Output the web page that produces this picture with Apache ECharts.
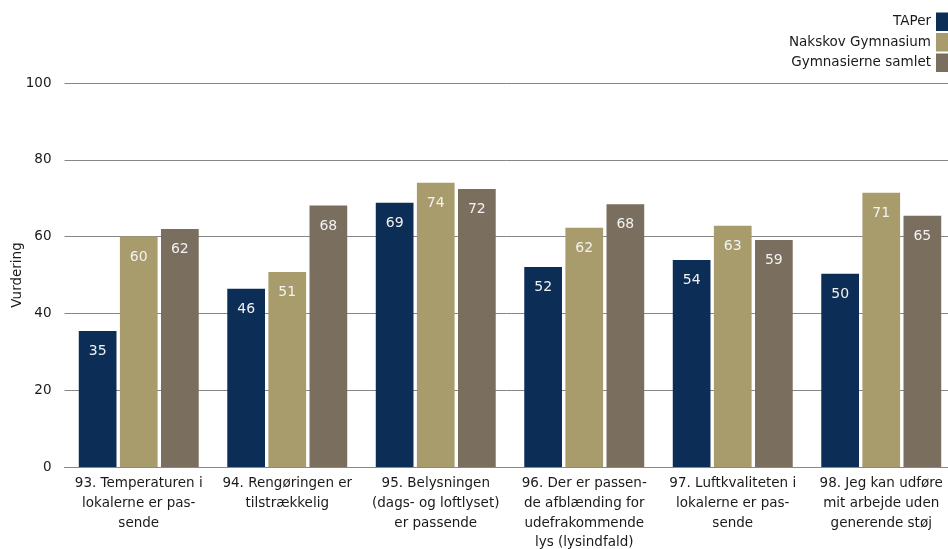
<!DOCTYPE html>
<html>
<head>
<meta charset="utf-8">
<script src="https://cdn.jsdelivr.net/npm/echarts@6/dist/echarts.min.js"></script>
<style>html,body{margin:0;padding:0;background:#fff;overflow:hidden}#c{width:948px;height:549px}</style>
</head>
<body>
<div id="c"></div>
<script>
var categories = [
  "93. Temperaturen i\nlokalerne er pas-\nsende",
  "94. Rengøringen er\ntilstrækkelig",
  "95. Belysningen\n(dags- og loftlyset)\ner passende",
  "96. Der er passen-\nde afblænding for\nudefrakommende\nlys (lysindfald)",
  "97. Luftkvaliteten i\nlokalerne er pas-\nsende",
  "98. Jeg kan udføre\nmit arbejde uden\ngenerende støj"
];
var seriesNames = ["TAPer", "Nakskov Gymnasium", "Gymnasierne samlet"];
var taper = [35.4, 46.4, 68.8, 52.1, 53.9, 50.3];
var nakskov = [60.0, 50.8, 74.0, 62.3, 62.8, 71.4];
var samlet = [62.0, 68.1, 72.4, 68.4, 59.1, 65.4];
var yTicks = [0, 20, 40, 60, 80, 100];
var colors = ["#0c2d55", "#a99c6c", "#7a6e5e"];

var FONT = "DejaVu Sans";
var chart = echarts.init(document.getElementById("c"), null, {renderer: "canvas"});
function mk(name, data, color) {
  return {
    name: name, type: "bar", data: data,
    barWidth: "25.4%", barGap: "9%",
    itemStyle: {color: color},
    label: {
      show: true, position: "insideTop", distance: 13.5,
      color: "#f2f2f2", fontFamily: FONT, fontSize: 14,
      formatter: function (p) { return Math.round(p.value); }
    }
  };
}
chart.setOption({
  animation: false,
  textStyle: {fontFamily: FONT},
  color: colors,
  legend: {
    orient: "vertical", right: 0, top: 12.5, align: "right", padding: 0,
    itemWidth: 12, itemHeight: 18.5, itemGap: 2,
    icon: "rect",
    textStyle: {fontFamily: FONT, fontSize: 13.5, color: "#1a1a1a"},
    data: seriesNames
  },
  grid: {left: 64.5, right: -7.5, top: 83, bottom: 82, containLabel: false, outerBoundsMode: "none"},
  xAxis: {
    type: "category", data: categories,
    axisTick: {show: false},
    axisLine: {lineStyle: {color: "#888888", width: 1}},
    axisLabel: {interval: 0, color: "#1a1a1a", fontFamily: FONT, fontSize: 13.5, lineHeight: 19.7, margin: 7, align: "center"}
  },
  yAxis: {
    type: "value", min: yTicks[0], max: yTicks[yTicks.length - 1], interval: 20,
    name: "Vurdering", nameLocation: "middle", nameGap: 40, nameRotate: 90, nameMoveOverlap: false,
    nameTextStyle: {fontFamily: FONT, fontSize: 13.5, color: "#1a1a1a"},
    axisLine: {show: false}, axisTick: {show: false},
    axisLabel: {color: "#1a1a1a", fontFamily: FONT, fontSize: 13.5, margin: 13},
    splitLine: {lineStyle: {color: "#868686", width: 1}}
  },
  series: [mk(seriesNames[0], taper, colors[0]), mk(seriesNames[1], nakskov, colors[1]), mk(seriesNames[2], samlet, colors[2])]
});
</script>
</body>
</html>
